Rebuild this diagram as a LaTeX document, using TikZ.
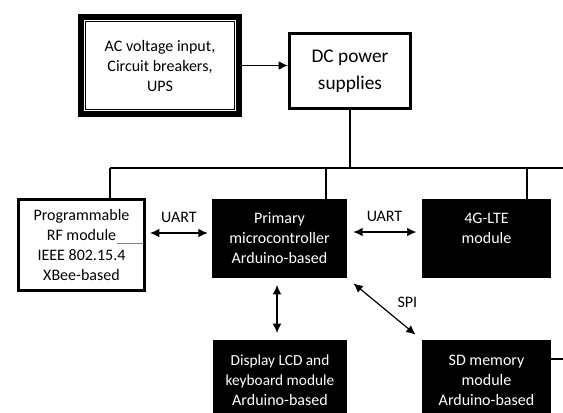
\documentclass[tikz,border=0pt]{standalone}
\usepackage{fontspec}
\setmainfont{Carlito}
\usetikzlibrary{arrows.meta, positioning, calc}

\begin{document}
\begin{tikzpicture}[x=0.75pt, y=-0.75pt,
	% Define styles
	boxtext/.style={font=\fontsize{12}{15}\selectfont, align=center, inner sep=0pt},
	whitebox/.style={rectangle, draw=black, line width=2.25pt, fill=white, boxtext},
	blackbox/.style={rectangle, fill=black, text=white, boxtext},
	busline/.style={draw=black, line width=0.8pt},
	linkarrow/.style={<->, >={Latex[length=7pt,width=6.5pt]}, line width=0.9pt, shorten <=3pt, shorten >=3pt},
	feedarrow/.style={->, >={Latex[length=7pt,width=6.5pt]}, line width=0.9pt},
	label/.style={font=\fontsize{12}{14}\selectfont}
	]
	
	% Page frame
	\useasboundingbox[fill=white] (0,0) rectangle (563,412);
	
	% Power section
	\node[whitebox, line width=4.5pt, minimum width=118.5pt, minimum height=72.75pt] (ac) at (160,65.5) {AC voltage input,\\Circuit breakers,\\UPS};
	\draw[line width=1.1pt] ([shift={(5.6pt,-5.6pt)}]ac.north west) rectangle ([shift={(-5.6pt,5.6pt)}]ac.south east);
	\node[whitebox, font=\fontsize{14.5}{20}\selectfont, minimum width=90.75pt, minimum height=56.25pt] (dc) at (350,71) {DC power\\supplies};
	
	% Module boxes
	\node[whitebox, minimum width=94.5pt, minimum height=68.25pt] (rf) at (81.5,245) {Programmable\\RF module\\IEEE 802.15.4\\XBee-based};
	\node[blackbox, minimum width=101.25pt, minimum height=59.25pt] (mcu) at (279.5,238.5) {Primary\\microcontroller\\Arduino-based};
	\node[blackbox, minimum width=96.75pt, minimum height=59.25pt] (lte) at (486.5,238.5) {4G-LTE\\module\\\mbox{}};
	\node[blackbox, minimum width=100.5pt, minimum height=60pt] (lcd) at (280,380) {{\fontsize{11.5}{15}\selectfont Display LCD and}\\{\fontsize{11.5}{15}\selectfont keyboard module}\\Arduino-based};
	\node[blackbox, minimum width=96.75pt, minimum height=60pt] (sd) at (486.5,380) {SD memory\\module\\Arduino-based};
	
	% Supply bus
	\coordinate (busL) at (110,168);
	\coordinate (busR) at (563,168);
	\coordinate (tapM) at (326,168);
	\coordinate (tapL) at (527,168);
	\coordinate (sdout) at (563,359);
	\draw[busline] (busL) -- (busR);
	\draw[busline] (dc.south) -- (dc.south |- busL);
	\draw[busline] (busL) -- (busL |- rf.north);
	\draw[busline] (tapM) -- (tapM |- mcu.north);
	\draw[busline] (tapL) -- (tapL |- lte.north);
	\draw[busline] (sdout -| sd.east) -- (sdout);
	\draw[gray, line width=0.5pt] (117,243) -- (143,243);
	
	% Data links
	\coordinate (uartA) at (0,233);
	\coordinate (uartB) at (0,232);
	\draw[feedarrow] (ac.east) -- (ac.east -| dc.west);
	\draw[linkarrow] (rf.east |- uartA) -- node[above=4pt, label] {UART} (mcu.west |- uartA);
	\draw[linkarrow, shorten <=4.5pt, shorten >=4pt] (mcu.east |- uartB) -- node[above=4pt, label] {UART} (lte.west |- uartB);
	\draw[linkarrow, shorten <=5pt, shorten >=5pt] (mcu.south -| 277,0) -- (lcd.north -| 277,0);
	\draw[linkarrow, shorten <=6pt, shorten >=6pt] (mcu.south east) -- node[above right=-3pt and 6pt, label] {SPI} (sd.north west);
	
\end{tikzpicture}
\end{document}
